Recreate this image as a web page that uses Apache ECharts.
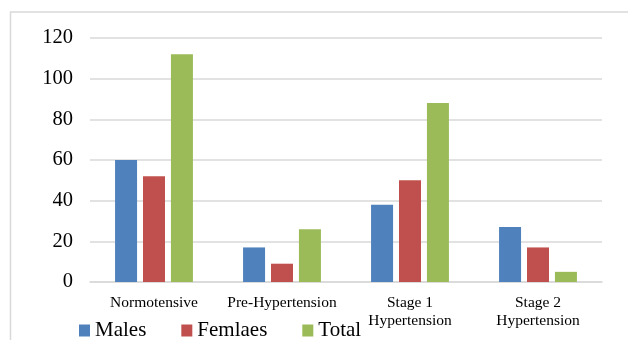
<!DOCTYPE html>
<html>
<head>
<meta charset="utf-8">
<script src="https://cdn.jsdelivr.net/npm/echarts@6/dist/echarts.min.js"></script>
<style>
html,body{margin:0;padding:0;background:#fff;}
#c{width:628px;height:340px;}
</style>
</head>
<body>
<div id="c"></div>
<script>
var categories = ['Normotensive', 'Pre-Hypertension', 'Stage 1\nHypertension', 'Stage 2\nHypertension'];
var males = [60, 17, 38, 27];
var females = [52, 9, 50, 17];
var total = [112, 26, 88, 5];
var seriesNames = ['Males', 'Femlaes', 'Total'];
var colors = ['#4F81BD', '#C0504D', '#9BBB59'];
var yTicks = {min: 0, max: 120, interval: 20};

var chart = echarts.init(document.getElementById('c'));
var font = 'Liberation Serif';
var legendText = {fontFamily: font, fontSize: 21, color: '#000'};
chart.setOption({
  animation: false,
  color: colors,
  textStyle: {fontFamily: font},
  graphic: [{
    type: 'rect',
    shape: {x: 10.5, y: 12, width: 700, height: 400},
    style: {fill: 'none', stroke: '#d9d9d9', lineWidth: 1.5},
    silent: true
  }],
  grid: {left: 90, right: 26, top: 38, bottom: 58},
  legend: {
    data: seriesNames,
    left: 79,
    top: 320,
    padding: 0,
    itemGap: 35,
    itemWidth: 11,
    itemHeight: 12,
    icon: 'rect',
    textStyle: legendText
  },
  xAxis: {
    type: 'category',
    data: categories,
    axisTick: {show: false},
    axisLine: {show: true, lineStyle: {color: '#d9d9d9', width: 1.5}},
    axisLabel: {fontFamily: font, fontSize: 15.5, color: '#000', lineHeight: 18, margin: 12, interval: 0}
  },
  yAxis: {
    type: 'value',
    min: yTicks.min,
    max: yTicks.max,
    interval: yTicks.interval,
    axisLine: {show: false},
    axisTick: {show: false},
    splitLine: {lineStyle: {color: '#d9d9d9', width: 1.5}},
    axisLabel: {fontFamily: font, fontSize: 20.5, color: '#000', margin: 17, padding: [3, 0, 0, 0]}
  },
  series: [
    {name: seriesNames[0], type: 'bar', data: males, barWidth: 22, barGap: '27%'},
    {name: seriesNames[1], type: 'bar', data: females, barWidth: 22, barGap: '27%'},
    {name: seriesNames[2], type: 'bar', data: total, barWidth: 22, barGap: '27%'}
  ]
});
</script>
</body>
</html>
